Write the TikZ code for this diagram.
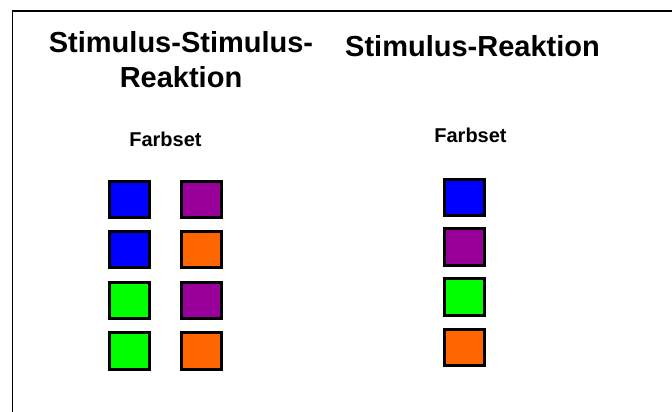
\documentclass[tikz,border=0pt]{standalone}
\usepackage{fontspec}
\setmainfont{Liberation Sans}
\definecolor{cblue}{HTML}{0000FF}
\definecolor{cpurple}{HTML}{990099}
\definecolor{cgreen}{HTML}{00FF00}
\definecolor{corange}{HTML}{FF6600}
\tikzset{
  sq/.style={draw=black, line width=2.6pt, minimum width=40pt, minimum height=36.5pt, inner sep=0pt},
  title/.style={font=\fontsize{29}{35}\selectfont\bfseries, align=center, inner sep=0pt},
  small/.style={font=\fontsize{20}{24}\selectfont\bfseries, inner sep=0pt},
}
\begin{document}
\begin{tikzpicture}[x=1pt,y=-1pt]
\useasboundingbox (0,0) rectangle (672,412);
\coordinate (fa) at (672,11);
\coordinate (fb) at (12.5,11);
\coordinate (fc) at (12.5,412);
\draw[line width=1.8pt] (fa) -- (fb) -- (fc);
% titles
\node[title, anchor=base] (t1) at (181,88) {Stimulus-Stimulus-\\Reaktion};
\node[title, anchor=base] (t2) at (472.5,57) {Stimulus-Reaktion};
\node[small, anchor=base] (f1) at (165.5,146) {Farbset};
\node[small, anchor=base] (f2) at (470.5,142) {Farbset};
% left squares
\node[sq, fill=cblue]   (a1) at (129.5,199.5) {};
\node[sq, fill=cblue]   (a2) at (129.5,249.5) {};
\node[sq, fill=cgreen]  (a3) at (129.5,300.5) {};
\node[sq, fill=cgreen]  (a4) at (129.5,351) {};
\node[sq, fill=cpurple] (b1) at (201.5,199.5) {};
\node[sq, fill=corange] (b2) at (201.5,249.5) {};
\node[sq, fill=cpurple] (b3) at (201.5,300.5) {};
\node[sq, fill=corange] (b4) at (201.5,351) {};
% right squares
\node[sq, fill=cblue]   (c1) at (464.5,197.5) {};
\node[sq, fill=cpurple] (c2) at (464.5,247) {};
\node[sq, fill=cgreen]  (c3) at (464.5,297) {};
\node[sq, fill=corange] (c4) at (464.5,347.5) {};
\end{tikzpicture}
\end{document}
